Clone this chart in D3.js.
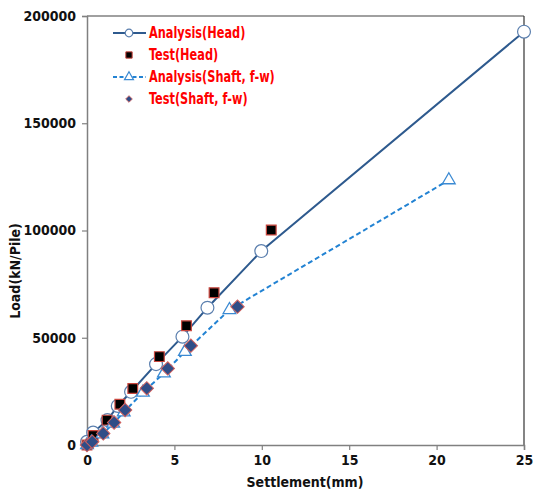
<!DOCTYPE html>
<html>
<head>
<meta charset="utf-8">
<script src="https://cdn.jsdelivr.net/npm/d3@7"></script>
<style>
  body { margin: 0; background: #fff; }
  text { font-family: "DejaVu Sans Condensed", "Liberation Sans", sans-serif; font-weight: bold; font-stretch: condensed; }
</style>
</head>
<body>
<script>
// settlement (mm) / load (kN/Pile)
var headAnaS = [0, 0.35, 1.17, 1.76, 2.52, 3.95, 5.46, 6.89, 9.97, 25];
var headAnaL = [1500, 5800, 11600, 18200, 24800, 37700, 50500, 64000, 90400, 192700];

var headTestS = [0, 0.35, 1.15, 1.88, 2.62, 4.14, 5.69, 7.27, 10.54];
var headTestL = [0, 4400, 11600, 19000, 26300, 41200, 55600, 71000, 100200];

var shaftAnaS = [0, 0.25, 0.88, 1.5, 2.1, 3.2, 4.4, 5.6, 8.15, 20.7];
var shaftAnaL = [0, 1200, 5000, 10000, 15300, 24500, 33500, 43500, 63000, 123500];

var shaftTestS = [0, 0.3, 0.93, 1.55, 2.18, 3.42, 4.62, 5.94, 8.61];
var shaftTestL = [0, 1500, 5400, 10500, 16300, 26400, 35700, 46300, 64500];

var xTicks = [0, 5, 10, 15, 20, 25];
var yTicks = [0, 50000, 100000, 150000, 200000];

var legendNames = ["Analysis(Head)", "Test(Head)", "Analysis(Shaft, f-w)", "Test(Shaft, f-w)"];

function pairs(xs, ys) { return xs.map(function (d, i) { return [d, ys[i]]; }); }

var width = 533, height = 491;
var mLeft = 87, mRight = 524, mTop = 16, mBottom = 445;

var svg = d3.select("body").append("svg")
  .attr("width", width)
  .attr("height", height);

var x = d3.scaleLinear().domain([0, 25]).range([mLeft, mRight]);
var y = d3.scaleLinear().domain([0, 200000]).range([mBottom, mTop]);

// frame
svg.append("line").attr("x1", mLeft).attr("x2", mRight).attr("y1", mTop).attr("y2", mTop)
  .style("stroke", "#808080").style("stroke-width", 1.5);
svg.append("line").attr("x1", mRight).attr("x2", mRight).attr("y1", mTop).attr("y2", mBottom)
  .style("stroke", "#333").style("stroke-width", 1.2);

var xAxis = svg.append("g")
  .attr("transform", "translate(0," + mBottom + ")")
  .call(d3.axisBottom(x).tickValues(xTicks).tickSize(5).tickPadding(5));
var yAxis = svg.append("g")
  .attr("transform", "translate(" + mLeft + ",0)")
  .call(d3.axisLeft(y).tickValues(yTicks).tickSize(5).tickPadding(6).tickFormat(d3.format("d")));

[xAxis, yAxis].forEach(function (g) {
  g.select(".domain").style("stroke", "#808080").style("stroke-width", 1.5);
  g.selectAll(".tick line").style("stroke", "#808080").style("stroke-width", 1.2);
  g.selectAll(".tick text").style("font-size", "14px").style("fill", "#111")
    .style("font-family", "'DejaVu Sans Condensed', sans-serif").style("font-weight", "bold");
});

svg.append("text")
  .attr("x", 305).attr("y", 487)
  .attr("text-anchor", "middle")
  .style("font-size", "14px").style("fill", "#111")
  .text("Settlement(mm)");

svg.append("text")
  .attr("transform", "translate(20,271) rotate(-90)")
  .attr("text-anchor", "middle")
  .style("font-size", "14px").style("fill", "#111")
  .text("Load(kN/Pile)");

var line = d3.line().x(function (d) { return x(d[0]); }).y(function (d) { return y(d[1]); });

var headColor = "#2e5a8e", shaftColor = "#2383d3";

svg.append("path").datum(pairs(headAnaS, headAnaL))
  .attr("d", line).style("fill", "none").style("stroke", headColor).style("stroke-width", 2);
svg.append("path").datum(pairs(shaftAnaS, shaftAnaL))
  .attr("d", line).style("fill", "none").style("stroke", shaftColor)
  .style("stroke-width", 2).style("stroke-dasharray", "5,3");

var sym = {
  circle: d3.symbol().type(d3.symbolCircle),
  square: d3.symbol().type(d3.symbolSquare),
  triangle: d3.symbol().type(d3.symbolTriangle)
};

function drawMarks(data, gen, size, fill, stroke, sw, rot) {
  svg.append("g").selectAll("path")
    .data(data)
    .enter()
    .append("path")
    .attr("transform", function (d) { return "translate(" + x(d[0]) + "," + y(d[1]) + ")" + (rot ? " rotate(45)" : ""); })
    .attr("d", gen.size(size))
    .style("fill", fill)
    .style("stroke", stroke)
    .style("stroke-width", sw);
}

drawMarks(pairs(headAnaS, headAnaL), sym.circle, 130, "#fff", "#5b7fae", 1.2);
drawMarks(pairs(headTestS, headTestL), sym.square, 95, "#000", "#c9473f", 1.2);
drawMarks(pairs(shaftAnaS, shaftAnaL), sym.triangle, 70, "#fff", "#3b8ad3", 1.3);
drawMarks(pairs(shaftTestS, shaftTestL), sym.square, 90, "#2f4d87", "#d0605e", 1, true);

// legend
var legY = [33, 55, 77, 99];
var leg = svg.append("g");
legendNames.forEach(function (name, i) {
  var cy = legY[i];
  if (i === 0 || i === 2) {
    leg.append("line").attr("x1", 113).attr("x2", 146).attr("y1", cy).attr("y2", cy)
      .style("stroke", i === 0 ? headColor : shaftColor).style("stroke-width", 2)
      .style("stroke-dasharray", i === 2 ? "4,2.5" : null);
  }
  var mk = leg.append("path").attr("transform", "translate(129," + cy + ")" + (i === 3 ? " rotate(45)" : ""));
  if (i === 0) mk.attr("d", sym.circle.size(45)).style("fill", "#fff").style("stroke", "#5b7fae").style("stroke-width", 1.2);
  if (i === 1) mk.attr("d", sym.square.size(40)).style("fill", "#000").style("stroke", "#c9473f").style("stroke-width", 1);
  if (i === 2) mk.attr("d", sym.triangle.size(35)).style("fill", "#fff").style("stroke", "#3b8ad3").style("stroke-width", 1.2);
  if (i === 3) mk.attr("d", sym.square.size(22)).style("fill", "#2f4d87").style("stroke", "#d0605e").style("stroke-width", 0.8);
  leg.append("text").attr("transform", "translate(149," + (cy + 5) + ") scale(0.84,1)")
    .style("font-size", "15px").style("fill", "#ff0000")
    .text(name);
});
</script>
</body>
</html>
